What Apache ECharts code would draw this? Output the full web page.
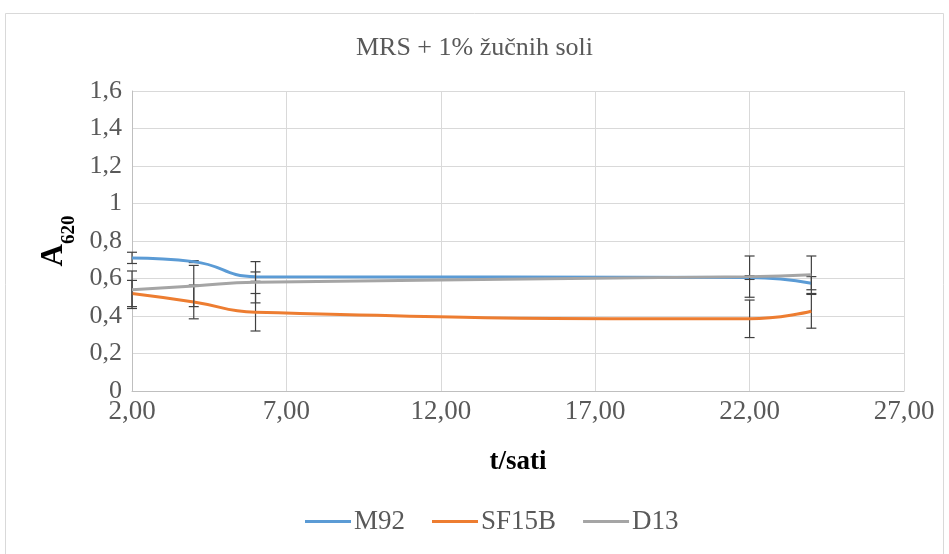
<!DOCTYPE html>
<html><head><meta charset="utf-8">
<script src="https://cdn.jsdelivr.net/npm/echarts@6/dist/echarts.min.js"></script>
<style>html,body{margin:0;padding:0;background:#fff}#c{width:949px;height:554px}</style>
</head><body><div id="c"></div>
<script>
const titleText = 'MRS + 1% žučnih soli';
const seriesNames = ['M92', 'SF15B', 'D13'];
const xValues = [2, 4, 6, 22, 24];
const m92 = [0.71, 0.69, 0.61, 0.605, 0.575];
const sf15b = [0.52, 0.475, 0.42, 0.385, 0.425];
const d13 = [0.54, 0.56, 0.58, 0.61, 0.62];
const m92Err = [0.03, 0.005, 0.025, 0.01, 0.035];
const sf15bErr = [0.07, 0.09, 0.10, 0.10, 0.09];
const d13Err = [0.10, 0.11, 0.11, 0.11, 0.10];
const colors = ['#5b9bd5', '#ed7d31', '#a5a5a5'];

const values = [m92, sf15b, d13];
const errs = [m92Err, sf15bErr, d13Err];
const font = "'Times New Roman', 'Liberation Serif', serif";

function lineSeries(i) {
  return {
    name: seriesNames[i], type: 'line', smooth: 0.5, symbol: 'none',
    lineStyle: {color: colors[i], width: 3}, itemStyle: {color: colors[i]},
    data: xValues.map((x, k) => [x, values[i][k]]), z: 3 + i
  };
}
function errSeries(i) {
  return {
    type: 'custom', name: seriesNames[i] + '_err', z: 3 + i,
    data: xValues.map((x, k) => [x, values[i][k] - errs[i][k], values[i][k] + errs[i][k]]),
    renderItem: function (params, api) {
      const lo = api.coord([api.value(0), api.value(1)]);
      const hi = api.coord([api.value(0), api.value(2)]);
      const w = 5;
      const st = {stroke: '#404040', lineWidth: 1.2};
      return {type: 'group', children: [
        {type: 'line', shape: {x1: lo[0], y1: lo[1], x2: hi[0], y2: hi[1]}, style: st},
        {type: 'line', shape: {x1: lo[0] - w, y1: lo[1], x2: lo[0] + w, y2: lo[1]}, style: st},
        {type: 'line', shape: {x1: hi[0] - w, y1: hi[1], x2: hi[0] + w, y2: hi[1]}, style: st}
      ]};
    }
  };
}
const series = [];
for (let i = 0; i < 3; i++) { series.push(errSeries(i)); series.push(lineSeries(i)); }

const chart = echarts.init(document.getElementById('c'));
chart.setOption({
  animation: false,
  backgroundColor: '#fff',
  title: {text: titleText, left: 'center', top: 30,
    textStyle: {fontFamily: font, fontSize: 26, fontWeight: 'normal', color: '#595959'}},
  graphic: [{type: 'rect', shape: {x: 5.5, y: 13.5, width: 938, height: 560},
    style: {fill: 'none', stroke: '#d9d9d9', lineWidth: 1}, silent: true}],
  grid: {left: 132, right: 45, top: 91, bottom: 163},
  legend: {data: seriesNames, bottom: 14, left: 300, itemWidth: 46, itemHeight: 3, itemGap: 27,
    icon: 'rect',
    textStyle: {fontFamily: font, fontSize: 27, color: '#595959', padding: [0, 0, 0, -2]}},
  xAxis: {type: 'value', min: 2, max: 27, interval: 5,
    name: 't/sati', nameLocation: 'middle', nameGap: 58,
    nameTextStyle: {fontFamily: font, fontSize: 27, fontWeight: 'bold', color: '#000'},
    axisLine: {show: true, lineStyle: {color: '#bfbfbf'}}, axisTick: {show: false},
    splitLine: {show: true, lineStyle: {color: '#d9d9d9'}},
    axisLabel: {fontFamily: font, fontSize: 27, color: '#595959', margin: 7,
      formatter: v => v.toFixed(2).replace('.', ',')}},
  yAxis: {type: 'value', min: 0, max: 1.6, interval: 0.2,
    name: '{a|A}{s|620}', nameLocation: 'middle', nameGap: 62, nameRotate: 90,
    nameTextStyle: {rich: {
      a: {fontFamily: font, fontSize: 31, fontWeight: 'bold', color: '#000', lineHeight: 32, verticalAlign: 'bottom'},
      s: {fontFamily: font, fontSize: 19, fontWeight: 'bold', color: '#000', lineHeight: 32, verticalAlign: 'bottom', padding: [0, 0, -9, 0]}
    }},
    axisLine: {show: true, lineStyle: {color: '#bfbfbf'}}, axisTick: {show: false},
    splitLine: {show: true, lineStyle: {color: '#d9d9d9'}},
    axisLabel: {fontFamily: font, fontSize: 26, color: '#595959', margin: 10,
      formatter: v => String(Math.round(v * 10) / 10).replace('.', ',')}},
  series: series
});
</script></body></html>
